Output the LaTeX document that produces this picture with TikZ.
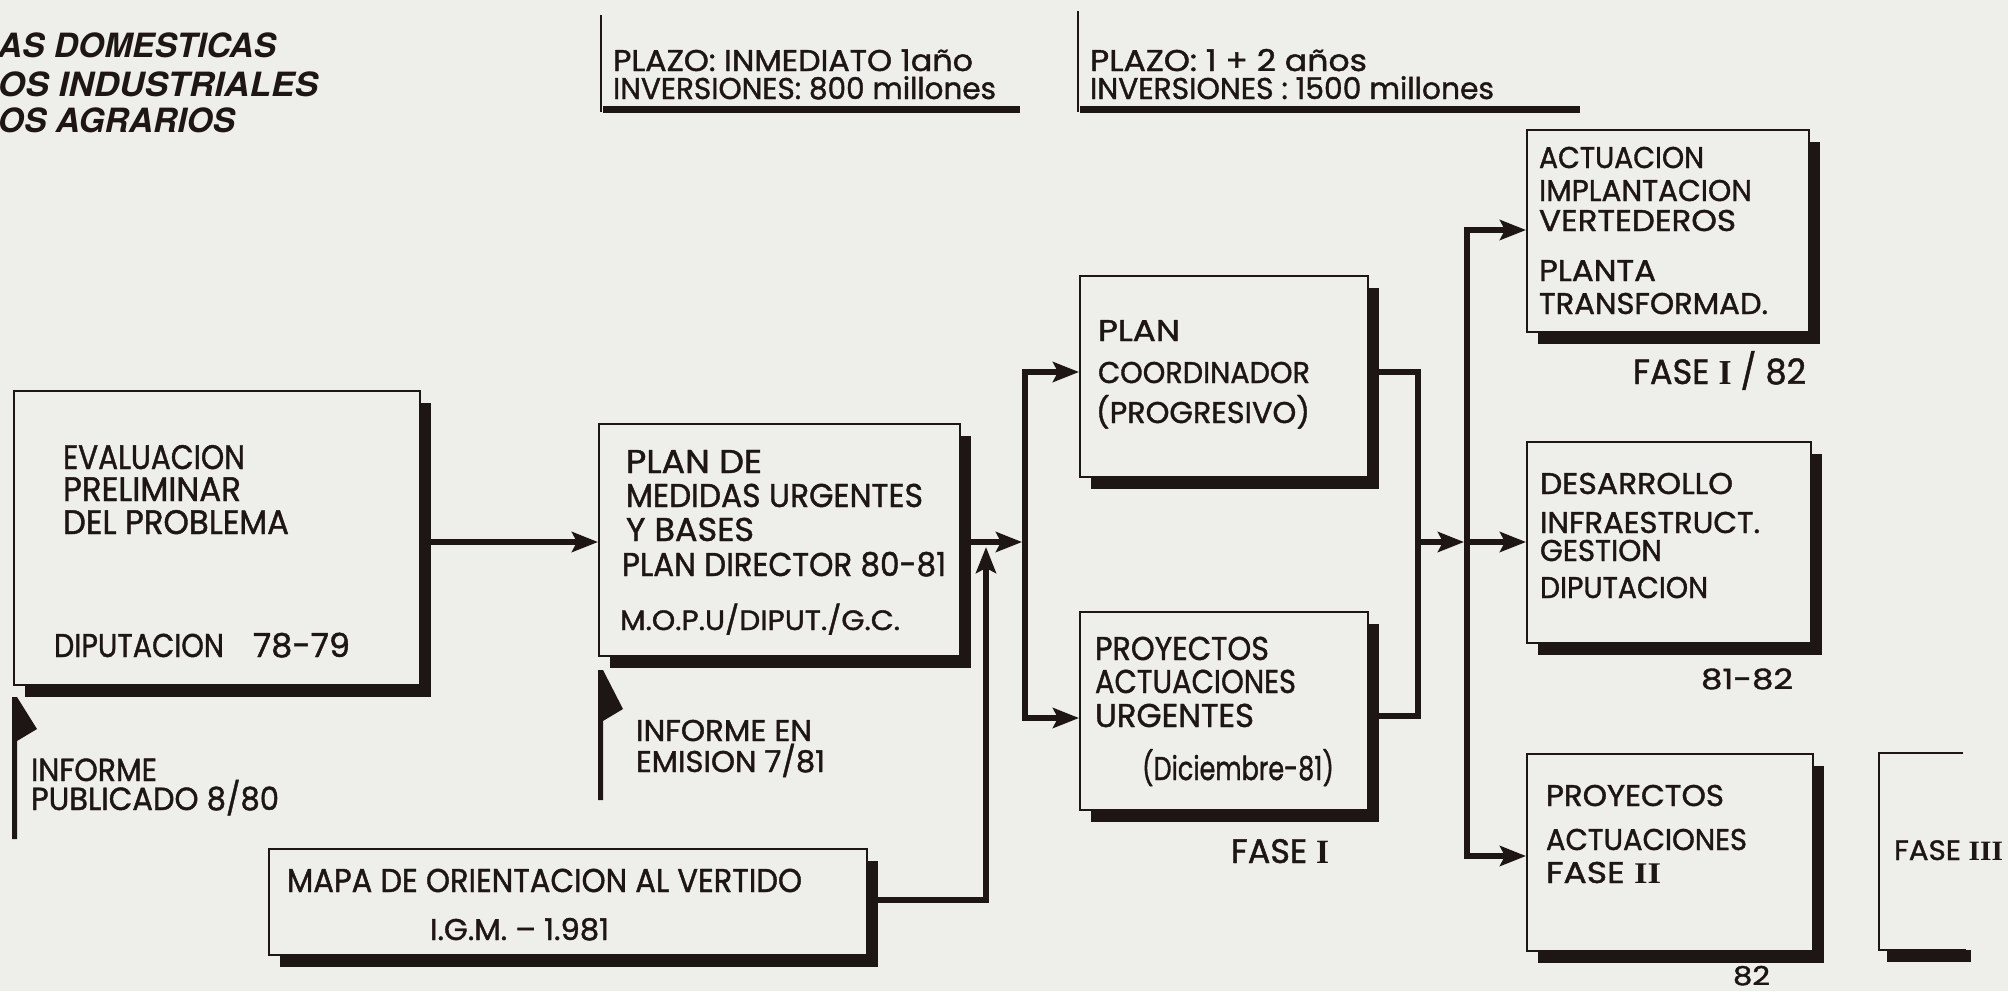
\documentclass[tikz,border=0pt]{standalone}
\usepackage{fontspec}
\usepackage{graphicx}
\setmainfont{Poppins}[FakeBold=1.3]
\newfontfamily\itfont{TeX Gyre Heros}
\newfontfamily\romfont{Liberation Serif}
\usetikzlibrary{arrows.meta,shadows,calc}
\definecolor{paper}{RGB}{238,238,235}
\definecolor{ink}{RGB}{30,22,20}
\newcommand\fitw[2]{\resizebox{#1pt}{\height}{#2}}
\newcommand\rn[1]{{\romfont\bfseries #1}}
\tikzset{
  box/.style={draw=ink, line width=2.2pt, fill=paper, anchor=north west, inner sep=0pt,
    drop shadow={shadow xshift=11pt, shadow yshift=-12pt, fill=ink, opacity=1}},
  lbl/.style={anchor=base west, inner sep=0pt, outer sep=0pt, text=ink},
  conn/.style={draw=ink, line width=5.5pt},
  arr/.style={conn, -{Stealth[length=26pt,width=20pt,inset=5pt]}},
}
\newcommand\T[6]{\node[lbl, font=\fontsize{#5}{#5}\selectfont] (#1) at (#2,#3) {\fitw{#4}{#6}};}
\begin{document}
\begin{tikzpicture}[x=1pt,y=-1pt]
\fill[paper] (0,0) rectangle (2008,991);
\useasboundingbox (0,0) rectangle (2008,991);

% top-left italic text
\T{t1}{-2}{57}{278}{33.4}{\itfont\bfseries\itshape AS DOMESTICAS}
\T{t2}{-2}{96}{320}{33.4}{\itfont\bfseries\itshape OS INDUSTRIALES}
\T{t3}{-2}{132}{237}{33.4}{\itfont\bfseries\itshape OS AGRARIOS}

% PLAZO brackets
\draw[ink, line width=2pt] (601,15) -- (601,112);
\fill[ink] (603,106) rectangle (1020,113);
\draw[ink, line width=2pt] (1078,11) -- (1078,112);
\fill[ink] (1080,106) rectangle (1580,113);
\T{p1a}{613}{71}{360}{30}{PLAZO: INMEDIATO 1año}
\T{p1b}{613}{99}{383}{30}{INVERSIONES: 800 millones}
\T{p2a}{1090}{71}{277}{30}{PLAZO: 1 + 2 años}
\T{p2b}{1090}{99}{404}{30}{INVERSIONES : 1500 millones}

% boxes
\node[box, minimum width=406pt, minimum height=294pt] (eval) at (13,390) {};
\node[box, minimum width=361pt, minimum height=232pt] (plan) at (598,423) {};
\node[box, minimum width=598pt, minimum height=106pt] (mapa) at (268,848) {};
\node[box, minimum width=288pt, minimum height=201pt] (coord) at (1079,275) {};
\node[box, minimum width=288pt, minimum height=198pt] (urg) at (1079,611) {};
\node[box, minimum width=282pt, minimum height=202pt] (actu) at (1526,129) {};
\node[box, minimum width=284pt, minimum height=201pt] (desa) at (1526,441) {};
\node[box, minimum width=286pt, minimum height=197pt] (fase2) at (1526,753) {};

% open FASE III box
\fill[ink] (1887,950) rectangle (1971,962);
\draw[ink, line width=2.2pt] (1963,753) -- (1879,753) -- (1879,950) -- (1966,950);
\T{f3}{1894}{860}{109}{28}{FASE \rn{III}}

% flags
\fill[ink] (12,697) -- (17,697) -- (37,729) -- (17,741) -- (17,839) -- (12,839) -- cycle;
\fill[ink] (598,670) -- (603,670) -- (623,709) -- (603,721) -- (603,800) -- (598,800) -- cycle;

% texts in boxes
\T{e1}{63}{469}{182}{34}{EVALUACION}
\T{e2}{63}{501}{178}{34}{PRELIMINAR}
\T{e3}{63}{534}{226}{34}{DEL PROBLEMA}
\T{e4}{54}{657}{170}{33}{DIPUTACION}
\T{e5}{253}{657}{97}{33}{78-79}
\T{i1}{31}{781}{126}{32}{INFORME}
\T{i2}{31}{810}{248}{32}{PUBLICADO 8/80}

\T{pl1}{626}{473}{136}{33}{PLAN DE}
\T{pl2}{626}{507}{297}{33}{MEDIDAS URGENTES}
\T{pl3}{626}{541}{128}{33}{Y BASES}
\T{pl4}{622}{576}{324}{33}{PLAN DIRECTOR 80-81}
\T{pl5}{620}{630}{280}{28}{M.O.P.U/DIPUT./G.C.}
\T{ie1}{636}{741}{176}{30}{INFORME EN}
\T{ie2}{636}{772}{189}{30}{EMISION 7/81}

\T{m1}{287}{892}{515}{33}{MAPA DE ORIENTACION AL VERTIDO}
\T{m2}{430}{940}{179}{30}{I.G.M. – 1.981}

\T{c1}{1098}{341}{82}{30}{PLAN}
\T{c2}{1098}{383}{212}{30}{COORDINADOR}
\T{c3}{1096}{423}{214}{30}{(PROGRESIVO)}

\T{u1}{1095}{660}{174}{33}{PROYECTOS}
\T{u2}{1095}{693}{201}{33}{ACTUACIONES}
\T{u3}{1095}{727}{159}{33}{URGENTES}
\T{u4}{1142}{780}{192}{33}{(Diciembre-81)}
\T{f1}{1231}{863}{98}{34}{FASE \rn{I}}

\T{a1}{1539}{168}{165}{30}{ACTUACION}
\T{a2}{1539}{201}{213}{30}{IMPLANTACION}
\T{a3}{1539}{231}{197}{30}{VERTEDEROS}
\T{a4}{1539}{281}{117}{30}{PLANTA}
\T{a5}{1539}{314}{229}{30}{TRANSFORMAD.}
\T{fa}{1633}{384}{173}{35}{FASE \rn{I} / 82}

\T{d1}{1540}{494}{193}{30}{DESARROLLO}
\T{d2}{1540}{533}{220}{30}{INFRAESTRUCT.}
\T{d3}{1540}{561}{122}{30}{GESTION}
\T{d4}{1540}{598}{168}{30}{DIPUTACION}
\T{dy}{1701}{689}{92}{28}{81-82}

\T{g1}{1546}{806}{178}{30}{PROYECTOS}
\T{g2}{1546}{850}{201}{30}{ACTUACIONES}
\T{g3}{1546}{883}{115}{30}{FASE \rn{II}}
\T{gy}{1733}{985}{37}{26}{82}

% connector coordinates
\coordinate (b1) at (1025,542);
\coordinate (b1a) at (1022,542);
\coordinate (b1t) at (1025,372);
\coordinate (b1b) at (1025,718);
\coordinate (m1) at (1418,542);
\coordinate (m1t) at (1418,372);
\coordinate (m1b) at (1418,716);
\coordinate (b2) at (1467,542);
\coordinate (b2a) at (1464,542);
\coordinate (b2t) at (1467,230);
\coordinate (b2b) at (1467,856);
\coordinate (up) at (986,900);
\coordinate (upt) at (986,547);

% connectors
\draw[arr] (eval.east |- b1) -- (plan.west |- b1);
\draw[arr] (plan.east |- b1) -- (b1a);
\draw[arr] (b1) |- (coord.west |- b1t);
\draw[arr] (b1) |- (urg.west |- b1b);
\draw[arr] (mapa.east |- up) -| (upt);
\draw[conn] (coord.east |- m1t) -| (m1);
\draw[conn] (urg.east |- m1b) -| (m1);
\draw[arr] (m1) -- (b2a);
\draw[arr] (b2b) |- (actu.west |- b2t);
\draw[arr] (b2t) |- (fase2.west |- b2b);
\draw[arr] (b2) -- (desa.west |- b2);
\end{tikzpicture}
\end{document}
